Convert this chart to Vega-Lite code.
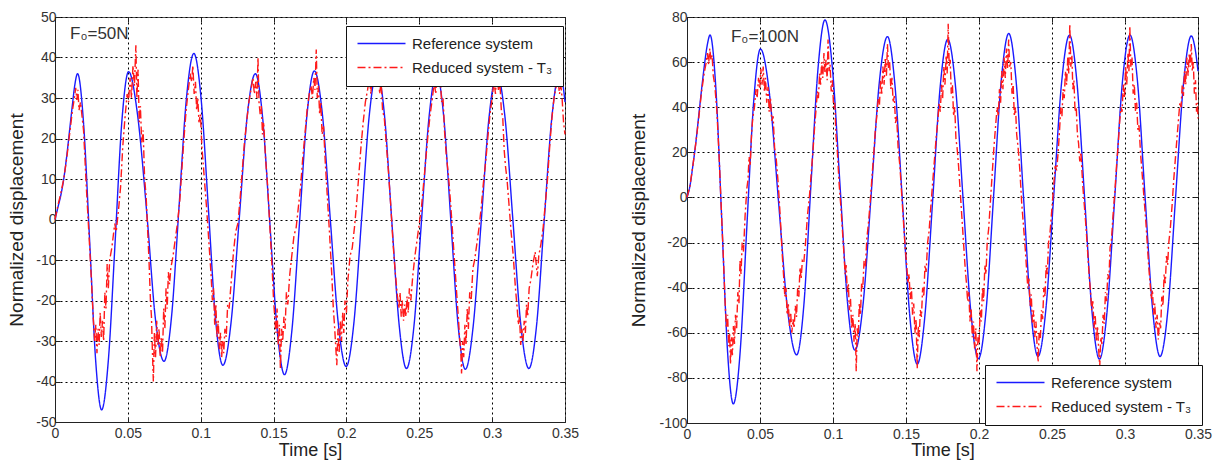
{
  "$schema": "https://vega.github.io/schema/vega-lite/v6.json",
  "background": "white",
  "padding": {"left": 7, "top": 9, "right": 4, "bottom": 0},
  "bounds": "flush",
  "spacing": 122,
  "config": {
    "font": "Liberation Sans",
    "view": {"stroke": "#555", "strokeWidth": 1},
    "axis": {
      "labelFont": "Liberation Sans", "labelFontSize": 14, "labelColor": "#333",
      "titleFont": "Liberation Sans", "titleFontSize": 18, "titleFontWeight": "normal", "titleColor": "#222",
      "grid": true, "gridColor": "#000", "gridDash": [2, 3], "gridOpacity": 1, "gridWidth": 1,
      "domainColor": "#222", "tickColor": "#222", "tickSize": -5, "labelOverlap": false, "labelFlush": false
    },
    "axisY": {"titleFontSize": 19},
    "legend": {
      "title": null, "orient": "none", "symbolType": "M-1,0H7", "symbolSize": 144, "symbolStrokeWidth": 1.4,
      "labelFont": "Liberation Sans", "labelFontSize": 15, "labelColor": "#222", "labelLimit": 300,
      "padding": 10, "rowPadding": 8, "labelOffset": 41, "strokeColor": "#111", "fillColor": "white", "cornerRadius": 0
    }
  },
  "datasets": {
    "refL": [
      {"t":0,"y":0},{"t":0.002,"y":3},{"t":0.004,"y":6},{"t":0.006,"y":10},{"t":0.008,"y":15.5},{"t":0.010,"y":22},{"t":0.012,"y":28.5},{"t":0.0135,"y":33},{"t":0.0155,"y":36},
      {"t":0.0196,"y":23.8},{"t":0.0238,"y":-5.5},{"t":0.0279,"y":-34.8},{"t":0.032,"y":-47},
      {"t":0.0366,"y":-34.8},{"t":0.0413,"y":-5.3},{"t":0.0459,"y":24.3},{"t":0.0505,"y":36.5},
      {"t":0.0566,"y":26},{"t":0.0632,"y":0.7},{"t":0.0689,"y":-24.5},{"t":0.0748,"y":-35},
      {"t":0.08,"y":-23.9},{"t":0.0851,"y":3},{"t":0.0902,"y":29.9},{"t":0.0953,"y":41},
      {"t":0.1003,"y":29.7},{"t":0.1053,"y":2.5},{"t":0.1102,"y":-24.7},{"t":0.1152,"y":-36},
      {"t":0.1208,"y":-25.5},{"t":0.1264,"y":0},{"t":0.1319,"y":25.5},{"t":0.1375,"y":36},
      {"t":0.1425,"y":25.1},{"t":0.1475,"y":-1.2},{"t":0.1525,"y":-27.4},{"t":0.1575,"y":-38.3},
      {"t":0.1626,"y":-27.3},{"t":0.1678,"y":-0.8},{"t":0.1729,"y":25.7},{"t":0.178,"y":36.7},
      {"t":0.1835,"y":26},{"t":0.1889,"y":0.2},{"t":0.1944,"y":-25.6},{"t":0.1998,"y":-36.3},
      {"t":0.2051,"y":-25.6},{"t":0.2104,"y":0.1},{"t":0.2157,"y":25.8},{"t":0.221,"y":36.5},
      {"t":0.2261,"y":25.8},{"t":0.2311,"y":-0.2},{"t":0.2362,"y":-26.1},{"t":0.2412,"y":-36.8},
      {"t":0.2464,"y":-26.1},{"t":0.2515,"y":-0.4},{"t":0.2567,"y":25.3},{"t":0.2618,"y":36},
      {"t":0.2668,"y":25.3},{"t":0.2717,"y":-0.5},{"t":0.2767,"y":-26.3},{"t":0.2816,"y":-37},
      {"t":0.287,"y":-26.3},{"t":0.2925,"y":-0.5},{"t":0.2979,"y":25.3},{"t":0.3033,"y":36},
      {"t":0.3088,"y":25.3},{"t":0.3143,"y":-0.4},{"t":0.3197,"y":-26.1},{"t":0.3252,"y":-36.8},
      {"t":0.3305,"y":-26.1},{"t":0.3357,"y":-0.4},{"t":0.341,"y":25.3},{"t":0.3462,"y":36},
      {"t":0.348,"y":34.5},{"t":0.35,"y":29}
    ],
    "redL": [
      {"t":0,"y":0},{"t":0.002,"y":3.5},{"t":0.004,"y":6.5},{"t":0.006,"y":10},{"t":0.008,"y":15},{"t":0.010,"y":21},{"t":0.012,"y":27},{"t":0.0133,"y":30},{"t":0.0142,"y":32.5},{"t":0.015,"y":29.5},{"t":0.0157,"y":32},{"t":0.0165,"y":27},{"t":0.0175,"y":29},
      {"t":0.0196,"y":22},{"t":0.0215,"y":8},{"t":0.0235,"y":-5},{"t":0.025,"y":-15},{"t":0.0262,"y":-24},{"t":0.0272,"y":-30},{"t":0.028,"y":-26},{"t":0.0288,"y":-33},{"t":0.0296,"y":-27},{"t":0.0303,"y":-31},{"t":0.031,"y":-23},{"t":0.0318,"y":-29},{"t":0.0326,"y":-25},{"t":0.0334,"y":-30},{"t":0.0342,"y":-18},{"t":0.035,"y":-22},{"t":0.0358,"y":-11},{"t":0.0366,"y":-17},{"t":0.0375,"y":-10},{"t":0.039,"y":-7},{"t":0.041,"y":-1},{"t":0.042,"y":-3},{"t":0.0435,"y":2},{"t":0.045,"y":8},{"t":0.0465,"y":18},{"t":0.048,"y":25},{"t":0.0495,"y":31},{"t":0.0505,"y":29},{"t":0.0515,"y":35},{"t":0.0525,"y":30},{"t":0.0535,"y":38},{"t":0.0545,"y":33},{"t":0.0555,"y":43},{"t":0.0562,"y":30},{"t":0.057,"y":37},{"t":0.0578,"y":24},{"t":0.0586,"y":28},{"t":0.0595,"y":19},{"t":0.0605,"y":22},{"t":0.0615,"y":10},{"t":0.0625,"y":6},{"t":0.0635,"y":-2},{"t":0.0645,"y":-10},{"t":0.0655,"y":-20},{"t":0.0662,"y":-24},{"t":0.0668,"y":-32},{"t":0.0675,"y":-40},{"t":0.0682,"y":-28},{"t":0.069,"y":-34},{"t":0.0698,"y":-25},{"t":0.0706,"y":-31},{"t":0.0714,"y":-27},{"t":0.0722,"y":-34},{"t":0.073,"y":-29},{"t":0.0738,"y":-33},{"t":0.0746,"y":-22},{"t":0.0754,"y":-27},{"t":0.0762,"y":-17},{"t":0.077,"y":-22},{"t":0.0778,"y":-13},{"t":0.0786,"y":-16},{"t":0.0795,"y":-12},{"t":0.081,"y":-9},{"t":0.0825,"y":-5},{"t":0.084,"y":-1},{"t":0.0855,"y":4},{"t":0.087,"y":12},{"t":0.0885,"y":20},{"t":0.09,"y":27},{"t":0.0915,"y":32},{"t":0.0928,"y":36},{"t":0.0938,"y":34},{"t":0.0946,"y":38},{"t":0.0955,"y":31},{"t":0.0964,"y":34},{"t":0.0972,"y":27},{"t":0.098,"y":30},{"t":0.0988,"y":24},{"t":0.0998,"y":26},{"t":0.1008,"y":18},{"t":0.1025,"y":10},{"t":0.104,"y":3},{"t":0.1055,"y":-5},{"t":0.107,"y":-13},{"t":0.108,"y":-20},{"t":0.1088,"y":-17},{"t":0.1096,"y":-26},{"t":0.1104,"y":-21},{"t":0.1112,"y":-29},{"t":0.112,"y":-25},{"t":0.1128,"y":-32},{"t":0.1136,"y":-28},{"t":0.1144,"y":-34},{"t":0.115,"y":-30},{"t":0.1158,"y":-33},{"t":0.1166,"y":-27},{"t":0.1175,"y":-29},{"t":0.1185,"y":-21},{"t":0.1195,"y":-22},{"t":0.121,"y":-15},{"t":0.1225,"y":-8},{"t":0.124,"y":-3},{"t":0.1255,"y":-1},{"t":0.127,"y":5},{"t":0.1285,"y":12},{"t":0.13,"y":19},{"t":0.1315,"y":24},{"t":0.133,"y":29},{"t":0.1345,"y":32},{"t":0.1358,"y":35},{"t":0.1368,"y":31},{"t":0.1378,"y":34},{"t":0.1386,"y":30},{"t":0.1393,"y":40},{"t":0.14,"y":29},{"t":0.1408,"y":26},{"t":0.1416,"y":28},{"t":0.1424,"y":21},{"t":0.1432,"y":24},{"t":0.1445,"y":15},{"t":0.146,"y":8},{"t":0.1475,"y":-2},{"t":0.149,"y":-12},{"t":0.15,"y":-20},{"t":0.1508,"y":-24},{"t":0.1516,"y":-28},{"t":0.1524,"y":-22},{"t":0.1532,"y":-31},{"t":0.154,"y":-26},{"t":0.1547,"y":-37},{"t":0.1555,"y":-27},{"t":0.1563,"y":-30},{"t":0.1571,"y":-24},{"t":0.1579,"y":-27},{"t":0.1588,"y":-18},{"t":0.1598,"y":-21},{"t":0.161,"y":-14},{"t":0.1625,"y":-9},{"t":0.164,"y":-4},{"t":0.1655,"y":-2},{"t":0.167,"y":3},{"t":0.1685,"y":8},{"t":0.17,"y":15},{"t":0.1715,"y":21},{"t":0.173,"y":27},{"t":0.1745,"y":31},{"t":0.1757,"y":33},{"t":0.1767,"y":30},{"t":0.1776,"y":35},{"t":0.1784,"y":32},{"t":0.1793,"y":42},{"t":0.18,"y":30},{"t":0.1808,"y":33},{"t":0.1816,"y":26},{"t":0.1824,"y":29},{"t":0.1833,"y":21},{"t":0.1843,"y":23},{"t":0.1855,"y":14},{"t":0.187,"y":5},{"t":0.1885,"y":-4},{"t":0.19,"y":-14},{"t":0.191,"y":-22},{"t":0.1918,"y":-26},{"t":0.1926,"y":-31},{"t":0.1934,"y":-36},{"t":0.1942,"y":-27},{"t":0.195,"y":-33},{"t":0.1958,"y":-25},{"t":0.1966,"y":-30},{"t":0.1974,"y":-23},{"t":0.1982,"y":-28},{"t":0.199,"y":-20},{"t":0.2,"y":-23},{"t":0.201,"y":-15},{"t":0.2025,"y":-9},{"t":0.204,"y":-7},{"t":0.2055,"y":-2},{"t":0.207,"y":4},{"t":0.2085,"y":11},{"t":0.21,"y":18},{"t":0.2115,"y":24},{"t":0.213,"y":29},{"t":0.2145,"y":32},{"t":0.2158,"y":35},{"t":0.2168,"y":31},{"t":0.2178,"y":37},{"t":0.2188,"y":33},{"t":0.2198,"y":39},{"t":0.2208,"y":34},{"t":0.2218,"y":38},{"t":0.2228,"y":31},{"t":0.2238,"y":34},{"t":0.2248,"y":27},{"t":0.226,"y":25},{"t":0.2275,"y":18},{"t":0.229,"y":11},{"t":0.2305,"y":3},{"t":0.232,"y":-6},{"t":0.2335,"y":-13},{"t":0.235,"y":-19},{"t":0.236,"y":-22},{"t":0.2368,"y":-18},{"t":0.2376,"y":-24},{"t":0.2384,"y":-20},{"t":0.2392,"y":-25},{"t":0.24,"y":-21},{"t":0.2408,"y":-24},{"t":0.2416,"y":-19},{"t":0.2424,"y":-23},{"t":0.2432,"y":-17},{"t":0.2442,"y":-20},{"t":0.2455,"y":-14},{"t":0.247,"y":-9},{"t":0.2485,"y":-5},{"t":0.25,"y":-1},{"t":0.2515,"y":3},{"t":0.253,"y":9},{"t":0.2545,"y":15},{"t":0.256,"y":21},{"t":0.2575,"y":26},{"t":0.259,"y":30},{"t":0.2603,"y":34},{"t":0.2613,"y":31},{"t":0.2623,"y":37},{"t":0.2633,"y":33},{"t":0.2643,"y":36},{"t":0.2653,"y":29},{"t":0.2663,"y":30},{"t":0.2673,"y":22},{"t":0.2685,"y":16},{"t":0.27,"y":11},{"t":0.2715,"y":4},{"t":0.273,"y":-4},{"t":0.2745,"y":-12},{"t":0.276,"y":-20},{"t":0.2768,"y":-24},{"t":0.2776,"y":-29},{"t":0.2784,"y":-32},{"t":0.279,"y":-38},{"t":0.2797,"y":-30},{"t":0.2805,"y":-34},{"t":0.2813,"y":-26},{"t":0.2821,"y":-31},{"t":0.2829,"y":-22},{"t":0.2837,"y":-27},{"t":0.2846,"y":-18},{"t":0.2856,"y":-20},{"t":0.2868,"y":-12},{"t":0.288,"y":-10},{"t":0.2895,"y":-6},{"t":0.291,"y":-2},{"t":0.2925,"y":3},{"t":0.294,"y":9},{"t":0.2955,"y":14},{"t":0.297,"y":20},{"t":0.2985,"y":26},{"t":0.3,"y":30},{"t":0.3013,"y":34},{"t":0.3023,"y":31},{"t":0.3033,"y":37},{"t":0.3043,"y":32},{"t":0.3053,"y":34},{"t":0.3063,"y":27},{"t":0.3073,"y":25},{"t":0.3083,"y":17},{"t":0.3092,"y":13},{"t":0.3102,"y":10},{"t":0.3115,"y":4},{"t":0.313,"y":-3},{"t":0.3145,"y":-9},{"t":0.316,"y":-17},{"t":0.3172,"y":-22},{"t":0.318,"y":-26},{"t":0.3188,"y":-24},{"t":0.3196,"y":-31},{"t":0.3204,"y":-27},{"t":0.3212,"y":-30},{"t":0.322,"y":-25},{"t":0.3228,"y":-28},{"t":0.3236,"y":-21},{"t":0.3244,"y":-24},{"t":0.3254,"y":-17},{"t":0.3265,"y":-15},{"t":0.328,"y":-11},{"t":0.3295,"y":-8},{"t":0.331,"y":-14},{"t":0.332,"y":-9},{"t":0.3335,"y":-6},{"t":0.335,"y":-2},{"t":0.3365,"y":4},{"t":0.338,"y":10},{"t":0.3395,"y":18},{"t":0.341,"y":25},{"t":0.3425,"y":30},{"t":0.344,"y":33},{"t":0.3452,"y":35},{"t":0.3462,"y":31},{"t":0.3472,"y":33},{"t":0.348,"y":30},{"t":0.349,"y":24},{"t":0.35,"y":21}
    ],
    "refR": [
      {"t":0,"y":0},{"t":0.002,"y":5},{"t":0.004,"y":14},{"t":0.006,"y":24},{"t":0.008,"y":36},{"t":0.010,"y":48},{"t":0.012,"y":59},{"t":0.014,"y":68},{"t":0.0158,"y":72},
      {"t":0.0198,"y":48},{"t":0.0238,"y":-9.8},{"t":0.0277,"y":-67.5},{"t":0.0317,"y":-91.5},
      {"t":0.0364,"y":-68.5},{"t":0.041,"y":-12.9},{"t":0.0457,"y":42.8},{"t":0.0503,"y":65.8},
      {"t":0.0565,"y":45.9},{"t":0.0627,"y":-2},{"t":0.0689,"y":-49.9},{"t":0.0751,"y":-69.8},
      {"t":0.08,"y":-48},{"t":0.0848,"y":4.5},{"t":0.0897,"y":56.9},{"t":0.0945,"y":78.7},
      {"t":0.0996,"y":57.3},{"t":0.1048,"y":5.5},{"t":0.1099,"y":-46.3},{"t":0.115,"y":-67.7},
      {"t":0.1206,"y":-47.3},{"t":0.1262,"y":1.8},{"t":0.1317,"y":50.9},{"t":0.1373,"y":71.3},
      {"t":0.1424,"y":50},{"t":0.1475,"y":-1.3},{"t":0.1526,"y":-52.6},{"t":0.1577,"y":-73.9},
      {"t":0.1629,"y":-52.8},{"t":0.1682,"y":-1.9},{"t":0.1734,"y":49},{"t":0.1786,"y":70.1},
      {"t":0.1839,"y":49.3},{"t":0.1891,"y":-0.7},{"t":0.1944,"y":-50.7},{"t":0.1996,"y":-71.5},
      {"t":0.2048,"y":-50.4},{"t":0.21,"y":0.6},{"t":0.2152,"y":51.6},{"t":0.2204,"y":72.7},
      {"t":0.2254,"y":51.7},{"t":0.2304,"y":1.1},{"t":0.2354,"y":-49.5},{"t":0.2404,"y":-70.5},
      {"t":0.2458,"y":-49.6},{"t":0.2512,"y":0.8},{"t":0.2566,"y":51.1},{"t":0.262,"y":72},
      {"t":0.2671,"y":51},{"t":0.2723,"y":0.2},{"t":0.2774,"y":-50.6},{"t":0.2825,"y":-71.7},
      {"t":0.2877,"y":-50.6},{"t":0.293,"y":0.2},{"t":0.2982,"y":51},{"t":0.3034,"y":72},
      {"t":0.3086,"y":51.1},{"t":0.3137,"y":0.8},{"t":0.3189,"y":-49.6},{"t":0.324,"y":-70.5},
      {"t":0.3294,"y":-49.7},{"t":0.3347,"y":0.6},{"t":0.3401,"y":50.8},{"t":0.3454,"y":71.6},
      {"t":0.348,"y":66},{"t":0.35,"y":56}
    ],
    "redR": [
      {"t":0,"y":0},{"t":0.002,"y":5},{"t":0.004,"y":14},{"t":0.006,"y":24},{"t":0.008,"y":35},{"t":0.010,"y":47},{"t":0.012,"y":56},{"t":0.0132,"y":60},{"t":0.014,"y":64},{"t":0.0148,"y":59},{"t":0.0156,"y":66},{"t":0.0164,"y":61},{"t":0.0172,"y":63},{"t":0.018,"y":54},{"t":0.019,"y":50},{"t":0.0205,"y":38},{"t":0.022,"y":18},{"t":0.0235,"y":-5},{"t":0.025,"y":-28},{"t":0.026,"y":-45},{"t":0.027,"y":-58},{"t":0.0278,"y":-52},{"t":0.0286,"y":-66},{"t":0.0292,"y":-60},{"t":0.0298,"y":-74},{"t":0.0304,"y":-62},{"t":0.0311,"y":-70},{"t":0.0318,"y":-57},{"t":0.0325,"y":-65},{"t":0.0332,"y":-52},{"t":0.034,"y":-58},{"t":0.0348,"y":-42},{"t":0.0356,"y":-47},{"t":0.0363,"y":-28},{"t":0.037,"y":-34},{"t":0.0378,"y":-20},{"t":0.0387,"y":-24},{"t":0.0398,"y":-8},{"t":0.041,"y":4},{"t":0.0418,"y":8},{"t":0.0425,"y":18},{"t":0.0433,"y":14},{"t":0.0442,"y":28},{"t":0.045,"y":35},{"t":0.0462,"y":40},{"t":0.0472,"y":48},{"t":0.048,"y":44},{"t":0.049,"y":53},{"t":0.0498,"y":48},{"t":0.0506,"y":57},{"t":0.0514,"y":50},{"t":0.0522,"y":58},{"t":0.053,"y":47},{"t":0.0538,"y":53},{"t":0.0546,"y":42},{"t":0.0555,"y":49},{"t":0.0563,"y":38},{"t":0.0572,"y":44},{"t":0.058,"y":34},{"t":0.059,"y":36},{"t":0.06,"y":22},{"t":0.061,"y":18},{"t":0.0625,"y":6},{"t":0.064,"y":-10},{"t":0.0652,"y":-25},{"t":0.0662,"y":-35},{"t":0.067,"y":-44},{"t":0.0678,"y":-40},{"t":0.0686,"y":-52},{"t":0.0694,"y":-47},{"t":0.0702,"y":-57},{"t":0.071,"y":-51},{"t":0.0718,"y":-60},{"t":0.0726,"y":-54},{"t":0.0734,"y":-58},{"t":0.0742,"y":-48},{"t":0.075,"y":-53},{"t":0.0758,"y":-40},{"t":0.0766,"y":-44},{"t":0.0774,"y":-31},{"t":0.0782,"y":-36},{"t":0.079,"y":-28},{"t":0.08,"y":-29},{"t":0.0812,"y":-20},{"t":0.0825,"y":-8},{"t":0.0838,"y":0},{"t":0.085,"y":10},{"t":0.0862,"y":20},{"t":0.0875,"y":32},{"t":0.0885,"y":40},{"t":0.0893,"y":47},{"t":0.09,"y":44},{"t":0.0908,"y":55},{"t":0.0915,"y":50},{"t":0.0922,"y":60},{"t":0.093,"y":53},{"t":0.0938,"y":64},{"t":0.0945,"y":55},{"t":0.0952,"y":61},{"t":0.096,"y":52},{"t":0.0966,"y":70},{"t":0.0973,"y":56},{"t":0.098,"y":59},{"t":0.0988,"y":47},{"t":0.0996,"y":52},{"t":0.1004,"y":40},{"t":0.1012,"y":42},{"t":0.102,"y":28},{"t":0.103,"y":20},{"t":0.1042,"y":6},{"t":0.1055,"y":-5},{"t":0.1065,"y":-15},{"t":0.1075,"y":-25},{"t":0.1083,"y":-34},{"t":0.109,"y":-30},{"t":0.1098,"y":-42},{"t":0.1105,"y":-38},{"t":0.1112,"y":-50},{"t":0.112,"y":-45},{"t":0.1128,"y":-58},{"t":0.1136,"y":-52},{"t":0.1144,"y":-64},{"t":0.1152,"y":-56},{"t":0.1159,"y":-77},{"t":0.1166,"y":-58},{"t":0.1173,"y":-62},{"t":0.118,"y":-47},{"t":0.1188,"y":-52},{"t":0.1196,"y":-38},{"t":0.1204,"y":-40},{"t":0.1213,"y":-28},{"t":0.1222,"y":-31},{"t":0.1232,"y":-18},{"t":0.1242,"y":-12},{"t":0.1255,"y":-2},{"t":0.1268,"y":10},{"t":0.128,"y":20},{"t":0.129,"y":30},{"t":0.13,"y":36},{"t":0.131,"y":44},{"t":0.1318,"y":41},{"t":0.1326,"y":52},{"t":0.1334,"y":46},{"t":0.1342,"y":58},{"t":0.135,"y":50},{"t":0.1358,"y":62},{"t":0.1366,"y":54},{"t":0.1373,"y":68},{"t":0.138,"y":57},{"t":0.1388,"y":60},{"t":0.1396,"y":48},{"t":0.1404,"y":53},{"t":0.1412,"y":42},{"t":0.142,"y":45},{"t":0.1428,"y":33},{"t":0.1436,"y":36},{"t":0.1446,"y":22},{"t":0.1458,"y":14},{"t":0.147,"y":2},{"t":0.1482,"y":-10},{"t":0.1494,"y":-22},{"t":0.1505,"y":-30},{"t":0.1513,"y":-38},{"t":0.1521,"y":-34},{"t":0.1529,"y":-45},{"t":0.1537,"y":-40},{"t":0.1545,"y":-52},{"t":0.1553,"y":-47},{"t":0.1561,"y":-60},{"t":0.1569,"y":-54},{"t":0.1577,"y":-76},{"t":0.1584,"y":-57},{"t":0.1591,"y":-62},{"t":0.1598,"y":-50},{"t":0.1606,"y":-53},{"t":0.1614,"y":-40},{"t":0.1622,"y":-44},{"t":0.163,"y":-30},{"t":0.1638,"y":-33},{"t":0.1648,"y":-20},{"t":0.1658,"y":-15},{"t":0.167,"y":-4},{"t":0.1682,"y":6},{"t":0.1694,"y":16},{"t":0.1706,"y":26},{"t":0.1718,"y":34},{"t":0.1727,"y":42},{"t":0.1735,"y":38},{"t":0.1743,"y":50},{"t":0.1751,"y":44},{"t":0.1759,"y":58},{"t":0.1767,"y":50},{"t":0.1775,"y":63},{"t":0.1782,"y":55},{"t":0.1789,"y":77},{"t":0.1796,"y":58},{"t":0.1803,"y":61},{"t":0.181,"y":46},{"t":0.1818,"y":50},{"t":0.1826,"y":36},{"t":0.1834,"y":40},{"t":0.1842,"y":26},{"t":0.185,"y":22},{"t":0.186,"y":14},{"t":0.1872,"y":2},{"t":0.1884,"y":-10},{"t":0.1896,"y":-22},{"t":0.1906,"y":-32},{"t":0.1914,"y":-38},{"t":0.1922,"y":-46},{"t":0.193,"y":-42},{"t":0.1938,"y":-55},{"t":0.1946,"y":-49},{"t":0.1954,"y":-62},{"t":0.1962,"y":-55},{"t":0.197,"y":-67},{"t":0.1978,"y":-58},{"t":0.1986,"y":-77},{"t":0.1993,"y":-62},{"t":0.2,"y":-65},{"t":0.2008,"y":-50},{"t":0.2016,"y":-55},{"t":0.2024,"y":-40},{"t":0.2032,"y":-46},{"t":0.204,"y":-30},{"t":0.2048,"y":-34},{"t":0.2056,"y":-20},{"t":0.2066,"y":-14},{"t":0.2078,"y":-2},{"t":0.209,"y":10},{"t":0.2102,"y":22},{"t":0.2114,"y":32},{"t":0.2124,"y":40},{"t":0.2132,"y":36},{"t":0.214,"y":48},{"t":0.2148,"y":42},{"t":0.2156,"y":56},{"t":0.2164,"y":48},{"t":0.2172,"y":62},{"t":0.218,"y":53},{"t":0.2188,"y":66},{"t":0.2196,"y":57},{"t":0.2203,"y":70},{"t":0.221,"y":58},{"t":0.2218,"y":60},{"t":0.2226,"y":46},{"t":0.2234,"y":50},{"t":0.2242,"y":36},{"t":0.225,"y":40},{"t":0.2258,"y":28},{"t":0.2268,"y":22},{"t":0.228,"y":12},{"t":0.2292,"y":-2},{"t":0.2304,"y":-12},{"t":0.2316,"y":-22},{"t":0.2326,"y":-32},{"t":0.2334,"y":-40},{"t":0.2342,"y":-36},{"t":0.235,"y":-48},{"t":0.2358,"y":-43},{"t":0.2366,"y":-56},{"t":0.2374,"y":-50},{"t":0.2382,"y":-62},{"t":0.239,"y":-55},{"t":0.2398,"y":-66},{"t":0.2405,"y":-73},{"t":0.2412,"y":-60},{"t":0.242,"y":-63},{"t":0.2428,"y":-50},{"t":0.2436,"y":-54},{"t":0.2444,"y":-40},{"t":0.2452,"y":-44},{"t":0.246,"y":-30},{"t":0.2468,"y":-34},{"t":0.2476,"y":-20},{"t":0.2486,"y":-16},{"t":0.2498,"y":-6},{"t":0.251,"y":4},{"t":0.2522,"y":14},{"t":0.2532,"y":12},{"t":0.2542,"y":20},{"t":0.2552,"y":30},{"t":0.256,"y":40},{"t":0.2568,"y":36},{"t":0.2576,"y":48},{"t":0.2584,"y":44},{"t":0.2592,"y":56},{"t":0.26,"y":50},{"t":0.2608,"y":62},{"t":0.2615,"y":55},{"t":0.2622,"y":77},{"t":0.2629,"y":58},{"t":0.2636,"y":63},{"t":0.2643,"y":48},{"t":0.265,"y":52},{"t":0.2658,"y":38},{"t":0.2666,"y":40},{"t":0.2674,"y":28},{"t":0.2682,"y":24},{"t":0.269,"y":16},{"t":0.2698,"y":20},{"t":0.271,"y":6},{"t":0.2722,"y":-4},{"t":0.2734,"y":-14},{"t":0.2746,"y":-26},{"t":0.2756,"y":-36},{"t":0.2764,"y":-42},{"t":0.2772,"y":-50},{"t":0.278,"y":-46},{"t":0.2788,"y":-58},{"t":0.2796,"y":-52},{"t":0.2804,"y":-64},{"t":0.2812,"y":-57},{"t":0.282,"y":-68},{"t":0.2827,"y":-75},{"t":0.2834,"y":-62},{"t":0.2842,"y":-65},{"t":0.285,"y":-52},{"t":0.2858,"y":-56},{"t":0.2866,"y":-42},{"t":0.2874,"y":-46},{"t":0.2882,"y":-34},{"t":0.289,"y":-36},{"t":0.2898,"y":-22},{"t":0.2906,"y":-20},{"t":0.2918,"y":-8},{"t":0.293,"y":2},{"t":0.2942,"y":14},{"t":0.2954,"y":24},{"t":0.2964,"y":34},{"t":0.2972,"y":40},{"t":0.298,"y":38},{"t":0.2988,"y":50},{"t":0.2996,"y":44},{"t":0.3004,"y":58},{"t":0.3012,"y":50},{"t":0.302,"y":64},{"t":0.3027,"y":56},{"t":0.3033,"y":76},{"t":0.304,"y":58},{"t":0.3048,"y":62},{"t":0.3056,"y":46},{"t":0.3064,"y":50},{"t":0.3072,"y":38},{"t":0.308,"y":42},{"t":0.3088,"y":30},{"t":0.3096,"y":32},{"t":0.3106,"y":20},{"t":0.3118,"y":10},{"t":0.313,"y":0},{"t":0.3142,"y":-10},{"t":0.3154,"y":-22},{"t":0.3164,"y":-32},{"t":0.3172,"y":-38},{"t":0.318,"y":-45},{"t":0.3188,"y":-41},{"t":0.3196,"y":-52},{"t":0.3204,"y":-47},{"t":0.3212,"y":-58},{"t":0.322,"y":-52},{"t":0.3228,"y":-63},{"t":0.3236,"y":-55},{"t":0.3244,"y":-58},{"t":0.3252,"y":-44},{"t":0.326,"y":-48},{"t":0.3268,"y":-34},{"t":0.3276,"y":-38},{"t":0.3284,"y":-26},{"t":0.3292,"y":-30},{"t":0.33,"y":-20},{"t":0.331,"y":-14},{"t":0.3322,"y":-4},{"t":0.3334,"y":8},{"t":0.3346,"y":18},{"t":0.3358,"y":28},{"t":0.3368,"y":36},{"t":0.3376,"y":42},{"t":0.3384,"y":40},{"t":0.3392,"y":50},{"t":0.34,"y":45},{"t":0.3408,"y":56},{"t":0.3416,"y":50},{"t":0.3424,"y":62},{"t":0.3432,"y":54},{"t":0.344,"y":64},{"t":0.3447,"y":58},{"t":0.3454,"y":68},{"t":0.3461,"y":56},{"t":0.3468,"y":60},{"t":0.3475,"y":46},{"t":0.3483,"y":52},{"t":0.349,"y":38},{"t":0.3496,"y":42},{"t":0.35,"y":35}
    ]
  },
  "resolve": {"scale": {"color": "independent", "strokeDash": "independent"}},
  "hconcat": [
    {
      "width": 510,
      "height": 405,
      "resolve": {"axis": {"x": "independent", "y": "independent"}},
      "layer": [
        {
          "data": {"name": "refL"},
          "mark": {"type": "line", "interpolate": "monotone", "strokeWidth": 1.4},
          "encoding": {
            "x": {"field": "t", "type": "quantitative",
              "scale": {"domain": [0, 0.35], "nice": false, "zero": false},
              "axis": {"orient": "bottom", "values": [0, 0.05, 0.1, 0.15, 0.2, 0.25, 0.3, 0.35], "labelExpr": "'' + datum.value", "title": "Time [s]", "labelPadding": 9, "titlePadding": 1}},
            "y": {"field": "y", "type": "quantitative",
              "scale": {"domain": [-50, 50], "nice": false, "zero": false},
              "axis": {"orient": "left", "values": [-50, -40, -30, -20, -10, 0, 10, 20, 30, 40, 50], "labelExpr": "'' + datum.value", "title": "Normalized displacement", "labelPadding": 4, "titlePadding": 9}},
            "color": {"datum": "Reference system", "type": "nominal",
              "scale": {"domain": ["Reference system", "Reduced system - T₃"], "range": ["#1a1aff", "#ff1a1a"]},
              "legend": {"legendX": 291, "legendY": 9}},
            "strokeDash": {"datum": "Reference system", "type": "nominal",
              "scale": {"domain": ["Reference system", "Reduced system - T₃"], "range": [[1, 0], [8, 3, 2, 3]]},
              "legend": {"legendX": 291, "legendY": 9}}
          }
        },
        {
          "data": {"name": "redL"},
          "mark": {"type": "line", "strokeWidth": 1.4},
          "encoding": {
            "x": {"field": "t", "type": "quantitative", "axis": null},
            "y": {"field": "y", "type": "quantitative", "axis": null},
            "color": {"datum": "Reduced system - T₃", "type": "nominal"},
            "strokeDash": {"datum": "Reduced system - T₃", "type": "nominal"}
          }
        },
        {
          "data": {"name": "refL"},
          "mark": {"type": "line", "opacity": 0},
          "encoding": {
            "x": {"field": "t", "type": "quantitative",
              "axis": {"orient": "top", "values": [0, 0.05, 0.1, 0.15, 0.2, 0.25, 0.3, 0.35], "labels": false, "title": null, "grid": false, "domain": false}},
            "y": {"field": "y", "type": "quantitative",
              "axis": {"orient": "right", "values": [-50, -40, -30, -20, -10, 0, 10, 20, 30, 40, 50], "labels": false, "title": null, "grid": false, "domain": false}}
          }
        },
        {
          "data": {"values": [{}]},
          "mark": {"type": "text", "align": "left", "baseline": "alphabetic", "fontSize": 17, "font": "Liberation Sans", "color": "#333"},
          "encoding": {
            "x": {"datum": 0.0103, "type": "quantitative", "axis": null},
            "y": {"datum": 44.6, "type": "quantitative", "axis": null},
            "text": {"value": "F₀=50N"}
          }
        }
      ]
    },
    {
      "width": 511,
      "height": 406,
      "resolve": {"axis": {"x": "independent", "y": "independent"}},
      "layer": [
        {
          "data": {"name": "refR"},
          "mark": {"type": "line", "interpolate": "monotone", "strokeWidth": 1.4},
          "encoding": {
            "x": {"field": "t", "type": "quantitative",
              "scale": {"domain": [0, 0.35], "nice": false, "zero": false},
              "axis": {"orient": "bottom", "values": [0, 0.05, 0.1, 0.15, 0.2, 0.25, 0.3, 0.35], "labelExpr": "'' + datum.value", "title": "Time [s]", "labelPadding": 9, "titlePadding": 0}},
            "y": {"field": "y", "type": "quantitative",
              "scale": {"domain": [-100, 80], "nice": false, "zero": false},
              "axis": {"orient": "left", "values": [-100, -80, -60, -40, -20, 0, 20, 40, 60, 80], "labelExpr": "'' + datum.value", "title": "Normalized displacement", "labelPadding": 5, "titlePadding": 10}},
            "color": {"datum": "Reference system", "type": "nominal",
              "scale": {"domain": ["Reference system", "Reduced system - T₃"], "range": ["#1a1aff", "#ff1a1a"]},
              "legend": {"legendX": 298, "legendY": 348}},
            "strokeDash": {"datum": "Reference system", "type": "nominal",
              "scale": {"domain": ["Reference system", "Reduced system - T₃"], "range": [[1, 0], [8, 3, 2, 3]]},
              "legend": {"legendX": 298, "legendY": 348}}
          }
        },
        {
          "data": {"name": "redR"},
          "mark": {"type": "line", "strokeWidth": 1.4},
          "encoding": {
            "x": {"field": "t", "type": "quantitative", "axis": null},
            "y": {"field": "y", "type": "quantitative", "axis": null},
            "color": {"datum": "Reduced system - T₃", "type": "nominal"},
            "strokeDash": {"datum": "Reduced system - T₃", "type": "nominal"}
          }
        },
        {
          "data": {"name": "refR"},
          "mark": {"type": "line", "opacity": 0},
          "encoding": {
            "x": {"field": "t", "type": "quantitative",
              "axis": {"orient": "top", "values": [0, 0.05, 0.1, 0.15, 0.2, 0.25, 0.3, 0.35], "labels": false, "title": null, "grid": false, "domain": false}},
            "y": {"field": "y", "type": "quantitative",
              "axis": {"orient": "right", "values": [-100, -80, -60, -40, -20, 0, 20, 40, 60, 80], "labels": false, "title": null, "grid": false, "domain": false}}
          }
        },
        {
          "data": {"values": [{}]},
          "mark": {"type": "text", "align": "left", "baseline": "alphabetic", "fontSize": 17, "font": "Liberation Sans", "color": "#333"},
          "encoding": {
            "x": {"datum": 0.0301, "type": "quantitative", "axis": null},
            "y": {"datum": 69, "type": "quantitative", "axis": null},
            "text": {"value": "F₀=100N"}
          }
        }
      ]
    }
  ]
}
